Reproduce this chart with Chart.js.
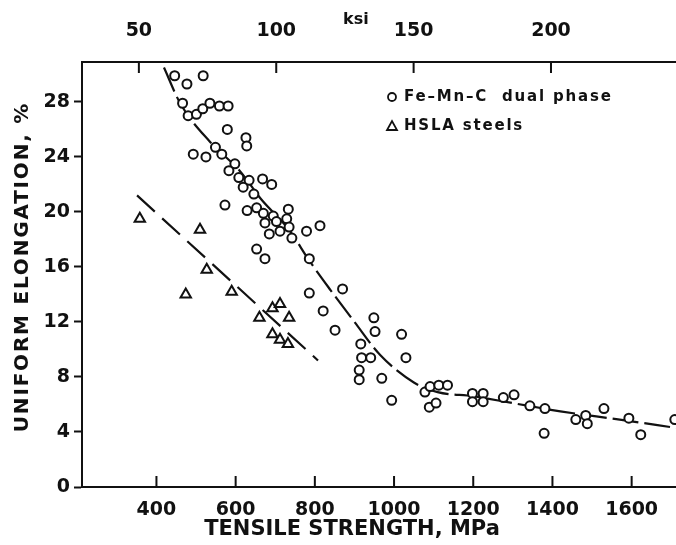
<!DOCTYPE html>
<html>
<head>
<meta charset="utf-8">
<script src="https://cdn.jsdelivr.net/npm/chart.js@4.4.1/dist/chart.umd.min.js"></script>
<style>
    body { margin: 0; background: #fff; }
    #wrap { width: 676px; height: 545px; }
</style>
</head>
<body>
<div id="wrap"><canvas id="elong" width="676" height="545"></canvas></div>
<script>
"use strict";

// Fe-Mn-C dual phase (tensile strength MPa, uniform elongation %)
const dualX = [446, 518, 477, 466, 480, 501, 517, 535, 559, 581, 579, 626, 628, 549, 565, 493, 525, 598, 583, 608,
    634, 619, 668, 691, 646, 573, 629, 653, 670, 695, 733, 674, 703, 729, 735, 685, 712, 779, 813, 742,
    653, 674, 786, 786, 821, 870, 851, 949, 952, 1019, 916, 918, 941, 1030, 912, 912, 969, 994, 1078, 1091,
    1113, 1135, 1089, 1106, 1198, 1225, 1198, 1225, 1276, 1303, 1343, 1381, 1379, 1459, 1484, 1488, 1530, 1593, 1623, 1709];
const dualY = [29.9, 29.9, 29.3, 27.9, 27.0, 27.1, 27.5, 27.9, 27.7, 27.7, 26.0, 25.4, 24.8, 24.7, 24.2, 24.2, 24.0, 23.5, 23.0, 22.5,
    22.3, 21.8, 22.4, 22.0, 21.3, 20.5, 20.1, 20.3, 19.9, 19.7, 20.2, 19.2, 19.3, 19.5, 18.9, 18.4, 18.6, 18.6, 19.0, 18.1,
    17.3, 16.6, 16.6, 14.1, 12.8, 14.4, 11.4, 12.3, 11.3, 11.1, 10.4, 9.4, 9.4, 9.4, 8.5, 7.8, 7.9, 6.3, 6.9, 7.3,
    7.4, 7.4, 5.8, 6.1, 6.8, 6.8, 6.2, 6.2, 6.5, 6.7, 5.9, 5.7, 3.9, 4.9, 5.2, 4.6, 5.7, 5.0, 3.8, 4.9];

// HSLA steels
const hslaX = [358, 510, 527, 474, 590, 660, 693, 712, 735, 693, 712, 732];
const hslaY = [19.5, 18.7, 15.8, 14.0, 14.2, 12.3, 13.0, 13.3, 12.3, 11.1, 10.7, 10.4];

// trend lines
const dualFitX = [419, 460, 535, 610, 665, 735, 785, 840, 900, 965, 1050, 1110, 1200, 1300, 1420, 1570, 1712];
const dualFitY = [30.5, 27.9, 25.1, 23.0, 20.9, 18.7, 16.5, 14.3, 12.0, 9.6, 7.6, 6.9, 6.6, 6.1, 5.5, 4.9, 4.3];
const hslaFitX = [351, 808];
const hslaFitY = [21.2, 9.2];

// axes
const mpaTicks = [400, 600, 800, 1000, 1200, 1400, 1600];
const ksiTicks = [50, 100, 150, 200];
const elongTicks = [0, 4, 8, 12, 16, 20, 24, 28];

const FONT = "'DejaVu Sans', sans-serif";
const INK = "#111";

function pts(xs, ys) {
    return xs.map((x, i) => ({ x: x, y: ys[i] }));
}

// inward tick marks on bottom and top axes, titles and legend
const decorPlugin = {
    id: "decor",
    afterDraw(chart) {
        const ctx = chart.ctx;
        const area = chart.chartArea;
        const sx = chart.scales.x, st = chart.scales.xTop;
        ctx.save();
        ctx.strokeStyle = INK;
        ctx.lineWidth = 2;
        ctx.beginPath();
        mpaTicks.forEach(v => {
            const p = sx.getPixelForValue(v);
            ctx.moveTo(p, area.bottom);
            ctx.lineTo(p, area.bottom - 11);
        });
        ksiTicks.forEach(v => {
            const p = st.getPixelForValue(v);
            ctx.moveTo(p, area.top);
            ctx.lineTo(p, area.top + 11);
        });
        ctx.stroke();

        ctx.fillStyle = INK;
        ctx.textAlign = "center";
        ctx.textBaseline = "middle";
        ctx.font = "bold 16px " + FONT;
        ctx.fillText("ksi", st.getPixelForValue(129), 20);

        ctx.font = "bold 21px " + FONT;
        ctx.fillText("TENSILE STRENGTH, MPa", 352, 530);
        ctx.translate(23, 267);
        ctx.rotate(-Math.PI / 2);
        ctx.font = "bold 20px " + FONT;
        ctx.letterSpacing = "1.8px";
        ctx.fillText("UNIFORM ELONGATION, %", 0, 0);
        ctx.setTransform(1, 0, 0, 1, 0, 0);

        // legend inside the plot
        const lx = area.left + 310, ly = area.top + 35;
        ctx.lineWidth = 1.8;
        ctx.beginPath();
        ctx.arc(lx, ly, 4, 0, Math.PI * 2);
        ctx.stroke();
        ctx.beginPath();
        ctx.moveTo(lx - 5, ly + 33);
        ctx.lineTo(lx + 5, ly + 33);
        ctx.lineTo(lx, ly + 24);
        ctx.closePath();
        ctx.stroke();
        ctx.textAlign = "left";
        ctx.font = "bold 15px " + FONT;
        ctx.letterSpacing = "1.8px";
        ctx.fillText("Fe\u2013Mn\u2013C  dual phase", lx + 12, ly);
        ctx.fillText("HSLA steels", lx + 12, ly + 29);
        ctx.restore();
    }
};

const tickFont = { family: FONT, size: 19, weight: "bold" };

new Chart(document.getElementById("elong"), {
    type: "scatter",
    data: {
        datasets: [
            {
                label: "Fe-Mn-C dual phase",
                data: pts(dualX, dualY),
                pointStyle: "circle",
                pointRadius: 4.5,
                borderWidth: 2,
                borderColor: INK,
                backgroundColor: "#fff"
            },
            {
                label: "HSLA steels",
                data: pts(hslaX, hslaY),
                pointStyle: "triangle",
                pointRadius: 6,
                borderWidth: 2,
                borderColor: INK,
                backgroundColor: "#fff"
            },
            {
                type: "line",
                data: pts(dualFitX, dualFitY),
                showLine: true,
                pointRadius: 0,
                borderColor: INK,
                borderWidth: 2.2,
                borderDash: [26, 6],
                cubicInterpolationMode: "monotone",
                fill: false
            },
            {
                type: "line",
                data: pts(hslaFitX, hslaFitY),
                showLine: true,
                pointRadius: 0,
                borderColor: INK,
                borderWidth: 2.2,
                borderDash: [24, 10],
                fill: false
            }
        ]
    },
    options: {
        responsive: false,
        animation: false,
        layout: { padding: 0, autoPadding: false },
        plugins: {
            legend: { display: false },
            tooltip: { enabled: false }
        },
        scales: {
            x: {
                type: "linear",
                position: "bottom",
                min: 212,
                max: 1712,
                afterBuildTicks: s => { s.ticks = mpaTicks.map(v => ({ value: v })); },
                afterFit: s => { s.height = 58; },
                grid: { display: true, drawOnChartArea: false, drawTicks: false },
                border: { display: true, color: INK, width: 2 },
                ticks: { color: INK, padding: 12, font: tickFont, callback: v => String(v) }
            },
            xTop: {
                type: "linear",
                position: "top",
                min: 29.3,
                max: 245.5,
                afterBuildTicks: s => { s.ticks = ksiTicks.map(v => ({ value: v })); },
                afterFit: s => { s.height = 62; },
                grid: { display: true, drawOnChartArea: false, drawTicks: false },
                border: { display: true, color: INK, width: 2 },
                ticks: { color: INK, padding: 20, font: tickFont, callback: v => String(v) }
            },
            y: {
                min: 0,
                max: 30.9,
                afterBuildTicks: s => { s.ticks = elongTicks.map(v => ({ value: v })); },
                afterFit: s => { s.width = 82; },
                grid: { drawOnChartArea: false, drawTicks: true, tickLength: 8, tickWidth: 2, tickColor: INK },
                border: { display: true, color: INK, width: 2 },
                ticks: { color: INK, padding: 4, font: tickFont, callback: v => String(v) }
            }
        }
    },
    plugins: [decorPlugin]
});
</script>
</body>
</html>
